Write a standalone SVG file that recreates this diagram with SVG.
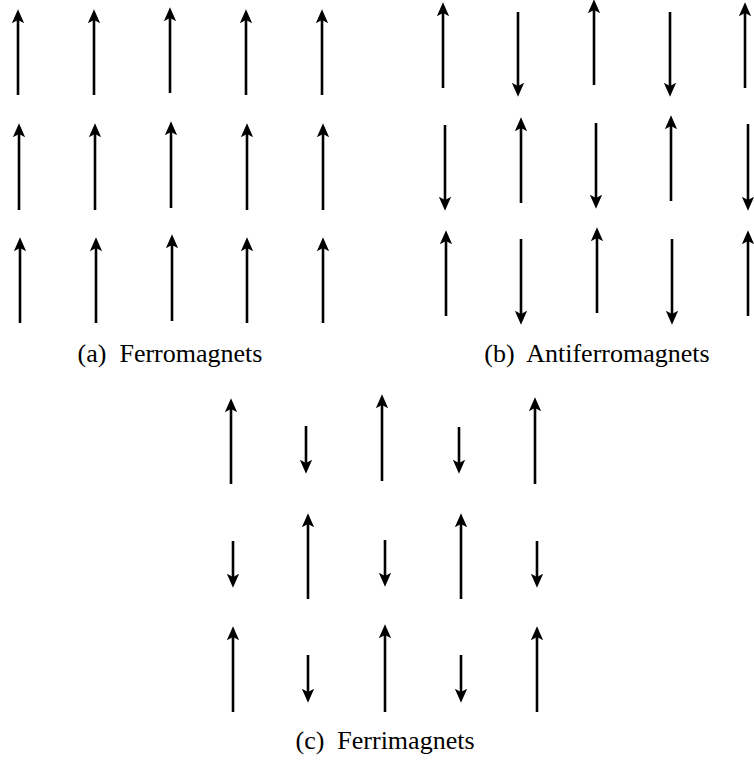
<svg xmlns="http://www.w3.org/2000/svg" xmlns:xlink="http://www.w3.org/1999/xlink" width="754" height="762" viewBox="0 0 754 762">
  <style>
    .spin { stroke: #000; stroke-width: 2.6; fill: none; marker-end: url(#head); }
    .cap { font-family: "Liberation Serif", "Times New Roman", serif; font-size: 26px; fill: #000; text-anchor: middle; }
  </style>
  <defs>
    <!-- notched arrowhead; the line ends at the notch -->
    <marker id="head" markerUnits="userSpaceOnUse" markerWidth="14" markerHeight="14"
            viewBox="0 0 13 12" refX="3" refY="6" orient="auto">
      <path d="M0,0.3 L13,6 L0,11.7 L3,6 Z" fill="#000"/>
    </marker>
  </defs>
  <rect width="754" height="762" fill="#fff"/>

  <!-- (a) ferromagnet: all spins up -->
  <g id="ferro">
    <g id="ferro-r1">
      <line class="spin" x1="18" y1="95" x2="18" y2="20"/>
      <line class="spin" x1="94" y1="95" x2="94" y2="20"/>
      <line class="spin" x1="170" y1="93" x2="170" y2="18"/>
      <line class="spin" x1="246" y1="95" x2="246" y2="20"/>
      <line class="spin" x1="322" y1="95" x2="322" y2="20"/>
    </g>
    <g id="ferro-r2">
      <line class="spin" x1="19" y1="210" x2="19" y2="134"/>
      <line class="spin" x1="95" y1="210" x2="95" y2="134"/>
      <line class="spin" x1="171" y1="208" x2="171" y2="132"/>
      <line class="spin" x1="247" y1="210" x2="247" y2="134"/>
      <line class="spin" x1="323" y1="210" x2="323" y2="134"/>
    </g>
    <g id="ferro-r3">
      <line class="spin" x1="20" y1="323" x2="20" y2="248"/>
      <line class="spin" x1="96" y1="323" x2="96" y2="248"/>
      <line class="spin" x1="172" y1="321" x2="172" y2="245"/>
      <line class="spin" x1="247" y1="323" x2="247" y2="248"/>
      <line class="spin" x1="323" y1="323" x2="323" y2="248"/>
    </g>
  </g>

  <!-- (b) antiferromagnet: alternating up/down -->
  <g id="antiferro">
    <g id="antiferro-r1">
      <line class="spin" x1="443" y1="88" x2="443" y2="13"/>
      <line class="spin" x1="518" y1="12" x2="518" y2="86"/>
      <line class="spin" x1="594" y1="85" x2="594" y2="10"/>
      <line class="spin" x1="670" y1="12" x2="670" y2="86"/>
      <line class="spin" x1="745" y1="88" x2="745" y2="13"/>
    </g>
    <g id="antiferro-r2">
      <line class="spin" x1="445" y1="125" x2="445" y2="200"/>
      <line class="spin" x1="521" y1="203" x2="521" y2="128"/>
      <line class="spin" x1="596" y1="123" x2="596" y2="198"/>
      <line class="spin" x1="671" y1="201" x2="671" y2="126"/>
      <line class="spin" x1="748" y1="124" x2="748" y2="200"/>
    </g>
    <g id="antiferro-r3">
      <line class="spin" x1="446" y1="316" x2="446" y2="241"/>
      <line class="spin" x1="521" y1="239" x2="521" y2="314"/>
      <line class="spin" x1="597" y1="313" x2="597" y2="238"/>
      <line class="spin" x1="672" y1="239" x2="672" y2="314"/>
      <line class="spin" x1="748" y1="316" x2="748" y2="241"/>
    </g>
  </g>

  <!-- (c) ferrimagnet: long up spins, short down spins -->
  <g id="ferri">
    <g id="ferri-r1">
      <line class="spin" x1="231" y1="484" x2="231" y2="409"/>
      <line class="spin" x1="306" y1="426" x2="306" y2="463"/>
      <line class="spin" x1="382" y1="481" x2="382" y2="405"/>
      <line class="spin" x1="459" y1="427" x2="459" y2="463"/>
      <line class="spin" x1="535" y1="484" x2="535" y2="408"/>
    </g>
    <g id="ferri-r2">
      <line class="spin" x1="233" y1="541" x2="233" y2="577"/>
      <line class="spin" x1="308" y1="599" x2="308" y2="524"/>
      <line class="spin" x1="385" y1="540" x2="385" y2="576"/>
      <line class="spin" x1="461" y1="599" x2="461" y2="524"/>
      <line class="spin" x1="537" y1="541" x2="537" y2="577"/>
    </g>
    <g id="ferri-r3">
      <line class="spin" x1="233" y1="712" x2="233" y2="637"/>
      <line class="spin" x1="308" y1="655" x2="308" y2="692"/>
      <line class="spin" x1="385" y1="712" x2="385" y2="635"/>
      <line class="spin" x1="461" y1="655" x2="461" y2="692"/>
      <line class="spin" x1="537" y1="712" x2="537" y2="637"/>
    </g>
  </g>

  <!-- captions -->
  <g id="captions">
    <text class="cap" x="170" y="362" xml:space="preserve">(a)  Ferromagnets</text>
    <text class="cap" x="597" y="362" xml:space="preserve">(b)  Antiferromagnets</text>
    <text class="cap" x="385" y="749" xml:space="preserve">(c)  Ferrimagnets</text>
  </g>
</svg>
